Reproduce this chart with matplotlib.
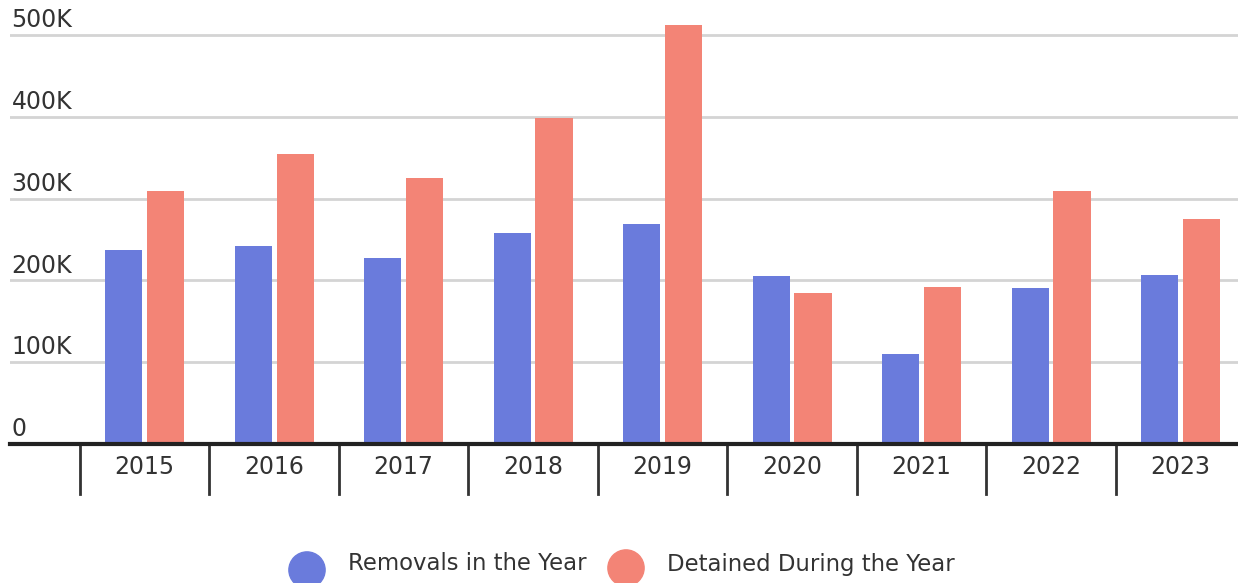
import numpy as np
import matplotlib.pyplot as plt
from matplotlib.lines import Line2D

plt.rcParams["font.family"] = ["DejaVu Sans"]

# 数据
years = ["2015", "2016", "2017", "2018", "2019", "2020", "2021", "2022", "2023"]
removals = [237000, 242000, 227000, 258000, 269000, 205000, 110000, 191000, 207000]
detained = [309000, 354000, 325000, 398000, 512000, 185000, 192000, 309000, 275000]
y_ticks = [0, 100000, 200000, 300000, 400000, 500000]
y_labels = ["0", "100K", "200K", "300K", "400K", "500K"]

BLUE = "#6a7bdc"
RED = "#f38476"
TEXT = "#333333"

W, H = 1238, 583
fig = plt.figure(figsize=(W / 100, H / 100), dpi=100)
ax = fig.add_axes([10 / W, (H - 444) / H, 1 - 10 / W, (444 - 10.4) / H])

x = np.arange(len(years))
bw = 0.286
off = 0.162
ax.bar(x - off, removals, bw, color=BLUE, zorder=3)
ax.bar(x + off, detained, bw, color=RED, zorder=3)

ax.set_xlim(-1.039, 8.444)
ax.set_ylim(0, 530000)

# 网格线和Y轴标签
for v, lab in zip(y_ticks, y_labels):
    if v > 0:
        ax.axhline(v, color="#d4d4d4", lw=2, zorder=1)
    ax.annotate(lab, xy=(0, v), xycoords=("axes fraction", "data"),
                xytext=(1, 2), textcoords="offset points",
                ha="left", va="bottom", fontsize=17, color=TEXT)

# 基线
ax.axhline(0, color="#222222", lw=3, zorder=4, clip_on=False)

# 分隔线和年份标签
for i, yr in enumerate(years):
    ax.add_line(Line2D([i - 0.5, i - 0.5], [0, -0.115], color="#333333", lw=2,
                       transform=ax.get_xaxis_transform(), clip_on=False))
    ax.text(i, -0.052, yr, transform=ax.get_xaxis_transform(),
            ha="center", va="center", fontsize=17, color=TEXT)

ax.set_xticks([])
ax.set_yticks([])
for s in ax.spines.values():
    s.set_visible(False)

# 图例
ax_leg = fig.add_axes([0, 0, 1, 1], facecolor="none")
ax_leg.set_xlim(0, W)
ax_leg.set_ylim(H, 0)
ax_leg.axis("off")
ax_leg.scatter([307, 626], [570, 568], s=680, color=[BLUE, RED], clip_on=False)
ax_leg.text(348, 564, "Removals in the Year", ha="left", va="center",
            fontsize=16.4, color=TEXT)
ax_leg.text(667, 564, "Detained During the Year", ha="left", va="center",
            fontsize=16.4, color=TEXT)

fig.savefig("out.png", dpi=100)
